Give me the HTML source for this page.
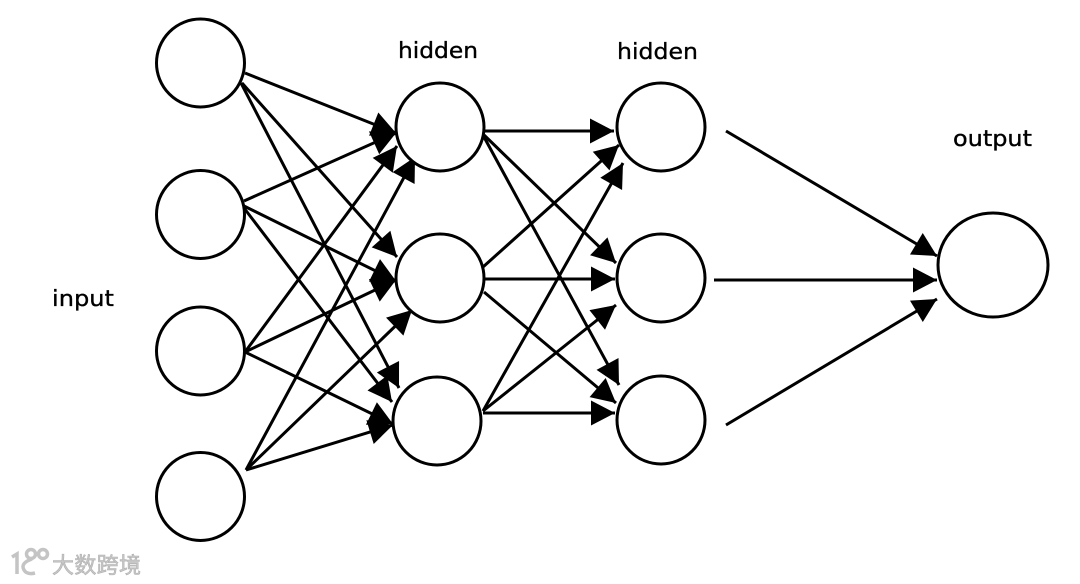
<!DOCTYPE html>
<html>
<head>
<meta charset="utf-8">
<style>
html,body{margin:0;padding:0;background:#fff;width:1080px;height:584px;overflow:hidden}
svg{display:block}
text{font-family:"DejaVu Sans","Liberation Sans",sans-serif;font-size:22.5px;fill:#000;stroke:#000;stroke-width:.35}
line{stroke:#000;stroke-width:3;marker-end:url(#a)}
.n{fill:#fff;stroke:#000;stroke-width:3}
</style>
</head>
<body>
<svg width="1080" height="584" viewBox="0 0 1080 584" xmlns="http://www.w3.org/2000/svg">
<defs>
<marker id="a" markerUnits="userSpaceOnUse" markerWidth="32" markerHeight="32" refX="25" refY="13" orient="auto">
<path d="M1 0.500 L25 13 L1 25.500 Z" fill="#000"/>
</marker>
</defs>
<g>
<line x1="245" y1="73" x2="396" y2="133"/>
<line x1="244" y1="201" x2="396" y2="133"/>
<line x1="245" y1="352" x2="397" y2="146"/>
<line x1="246" y1="470" x2="415" y2="157"/>
<line x1="242" y1="83" x2="397" y2="257"/>
<line x1="244" y1="206" x2="396" y2="281"/>
<line x1="245" y1="352" x2="396" y2="280"/>
<line x1="246" y1="470" x2="412" y2="310"/>
<line x1="241" y1="83" x2="399" y2="388"/>
<line x1="244" y1="208" x2="392" y2="402"/>
<line x1="245" y1="352" x2="393" y2="424"/>
<line x1="246" y1="470" x2="393" y2="425"/>
<line x1="484" y1="131" x2="614" y2="131"/>
<line x1="484" y1="135" x2="616" y2="263"/>
<line x1="484" y1="137" x2="619" y2="385"/>
<line x1="483" y1="267" x2="619" y2="145"/>
<line x1="484" y1="279" x2="615" y2="279"/>
<line x1="484" y1="292" x2="616" y2="403"/>
<line x1="483" y1="411" x2="623" y2="163"/>
<line x1="483" y1="411" x2="616" y2="305"/>
<line x1="483" y1="413" x2="615" y2="413"/>
<line x1="726" y1="131" x2="937" y2="256"/>
<line x1="714" y1="280" x2="937" y2="280"/>
<line x1="726" y1="425" x2="937" y2="299"/>
</g>
<g>
<circle class="n" cx="200.500" cy="63" r="44"/>
<circle class="n" cx="200.500" cy="214.500" r="44"/>
<circle class="n" cx="200.500" cy="351" r="44"/>
<circle class="n" cx="200.500" cy="496.500" r="44"/>
<circle class="n" cx="440" cy="127" r="44"/>
<circle class="n" cx="440" cy="278" r="44"/>
<circle class="n" cx="437" cy="421" r="44"/>
<circle class="n" cx="661" cy="127" r="44"/>
<circle class="n" cx="661" cy="278" r="44"/>
<circle class="n" cx="661" cy="420" r="44"/>
<ellipse class="n" cx="993" cy="265" rx="55" ry="52"/>
</g>
<text x="398" y="58" textLength="80" lengthAdjust="spacingAndGlyphs">hidden</text>
<text x="617" y="59" textLength="81" lengthAdjust="spacingAndGlyphs">hidden</text>
<text x="953" y="146" textLength="79" lengthAdjust="spacingAndGlyphs">output</text>
<text x="52" y="306" textLength="62" lengthAdjust="spacingAndGlyphs">input</text>
<g fill="none" stroke="#c4c4c4" stroke-width="3.500">
<path d="M12 557 L17 554 V574"/>
<path d="M32 559 Q20 563 24 570 Q27 575 35 573"/>
<circle cx="31" cy="554" r="4.500"/>
<circle cx="43" cy="554" r="4.500"/>
</g>
<text x="52" y="573" style="font-family:'Noto Sans CJK SC','WenQuanYi Zen Hei',sans-serif;font-size:22px;fill:#c8c8c8;stroke:#b0b0b0;stroke-width:.6" textLength="89">大数跨境</text>
</svg>
</body>
</html>
